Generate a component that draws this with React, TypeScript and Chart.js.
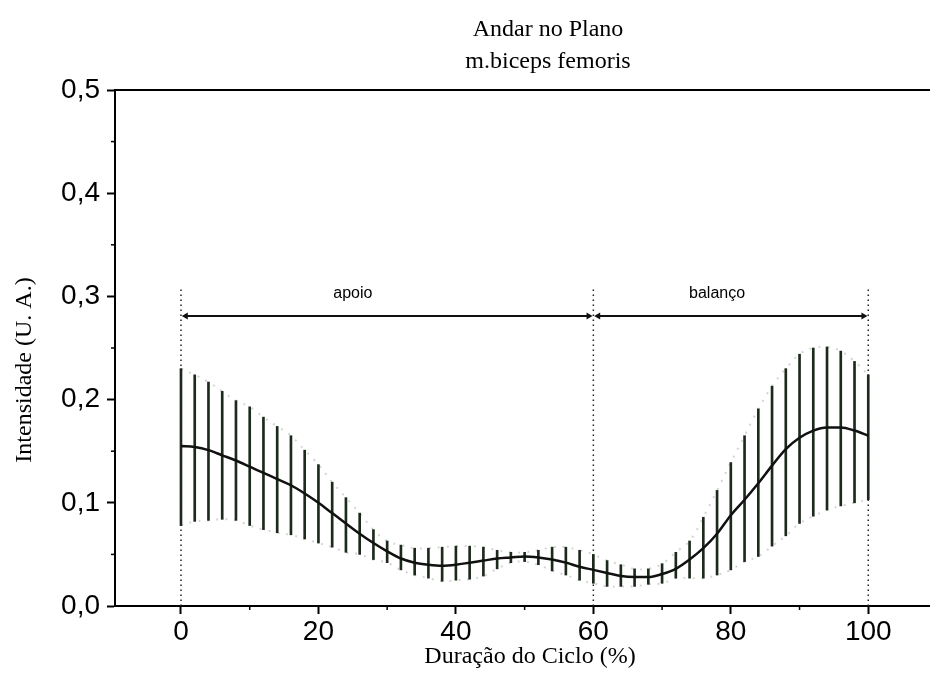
import React, { useEffect, useRef } from 'react';
import { Chart, registerables } from 'chart.js';

Chart.register(...registerables);

// ---- data ----
const cyclePct = [0, 2, 4, 6, 8, 10, 12, 14, 16, 18, 20, 22, 24, 26, 28, 30, 32, 34, 36, 38, 40, 42, 44, 46, 48, 50, 52, 54, 56, 58, 60, 62, 64, 66, 68, 70, 72, 74, 76, 78, 80, 82, 84, 86, 88, 90, 92, 94, 96, 98, 100];
const meanIntensity = [0.155, 0.154, 0.151, 0.146, 0.141, 0.135, 0.129, 0.123, 0.117, 0.109, 0.100, 0.090, 0.080, 0.070, 0.061, 0.053, 0.046, 0.042, 0.040, 0.039, 0.040, 0.042, 0.044, 0.046, 0.047, 0.048, 0.047, 0.045, 0.042, 0.038, 0.035, 0.032, 0.029, 0.028, 0.028, 0.031, 0.036, 0.045, 0.056, 0.070, 0.088, 0.103, 0.119, 0.136, 0.152, 0.163, 0.170, 0.173, 0.173, 0.170, 0.165];
const upperSD = [0.230, 0.224, 0.217, 0.208, 0.199, 0.193, 0.183, 0.174, 0.165, 0.151, 0.137, 0.120, 0.105, 0.090, 0.074, 0.063, 0.059, 0.056, 0.056, 0.057, 0.058, 0.058, 0.057, 0.054, 0.052, 0.052, 0.054, 0.057, 0.057, 0.054, 0.050, 0.044, 0.040, 0.036, 0.036, 0.041, 0.052, 0.063, 0.086, 0.112, 0.139, 0.165, 0.191, 0.213, 0.230, 0.244, 0.250, 0.251, 0.247, 0.237, 0.224];
const lowerSD = [0.078, 0.082, 0.083, 0.084, 0.083, 0.078, 0.074, 0.071, 0.069, 0.065, 0.061, 0.057, 0.052, 0.050, 0.045, 0.042, 0.035, 0.030, 0.027, 0.024, 0.025, 0.026, 0.029, 0.036, 0.042, 0.043, 0.040, 0.034, 0.030, 0.025, 0.022, 0.019, 0.019, 0.019, 0.021, 0.022, 0.027, 0.027, 0.027, 0.030, 0.035, 0.043, 0.048, 0.058, 0.068, 0.080, 0.087, 0.093, 0.097, 0.100, 0.103];

const xTickValues = [0, 20, 40, 60, 80, 100];
const xMinorTicks = [10, 30, 50, 70, 90];
const yTickValues = [0, 0.1, 0.2, 0.3, 0.4, 0.5];
const yMinorTicks = [0.05, 0.15, 0.25, 0.35, 0.45];

const phaseBoundaries = [0, 60, 100];
const boundaryTop = 0.308;
const phaseNames = ['apoio', 'balanço'];
const phaseLabelX = [25, 78];
const phaseLabelY = 0.303;
const phaseArrowY = 0.281;
const arrowGap = 0.7;

const titleLines = ['Andar no Plano', 'm.biceps femoris'];
const xTitle = 'Duração do Ciclo (%)';
const yTitle = 'Intensidade (U. A.)';

const SERIF = '"Liberation Serif", "Times New Roman", serif';
const SANS = '"Liberation Sans", Arial, sans-serif';

const decorPlugin = {
  id: 'decor',
  afterDraw(chart: any) {
    const { ctx, chartArea, scales } = chart;
    const xs = scales.x;
    const ys = scales.y;
    ctx.save();
    ctx.strokeStyle = '#000';
    // top frame line
    ctx.lineWidth = 2;
    ctx.beginPath();
    ctx.moveTo(chartArea.left, chartArea.top);
    ctx.lineTo(chart.width, chartArea.top);
    ctx.stroke();
    ctx.beginPath();
    ctx.moveTo(chartArea.right, chartArea.bottom);
    ctx.lineTo(chart.width, chartArea.bottom);
    ctx.stroke();
    // minor ticks
    ctx.lineWidth = 1.5;
    xMinorTicks.forEach((v) => {
      const px = xs.getPixelForValue(v);
      ctx.beginPath();
      ctx.moveTo(px, chartArea.bottom);
      ctx.lineTo(px, chartArea.bottom + 4);
      ctx.stroke();
    });
    yMinorTicks.forEach((v) => {
      const py = ys.getPixelForValue(v);
      ctx.beginPath();
      ctx.moveTo(chartArea.left, py);
      ctx.lineTo(chartArea.left - 4, py);
      ctx.stroke();
    });
    // phase labels
    ctx.fillStyle = '#000';
    ctx.font = `16px ${SANS}`;
    ctx.textAlign = 'center';
    ctx.textBaseline = 'middle';
    phaseNames.forEach((n, i) => {
      ctx.fillText(n, xs.getPixelForValue(phaseLabelX[i]), ys.getPixelForValue(phaseLabelY));
    });
    // titles
    ctx.font = `24px ${SERIF}`;
    ctx.fillText(titleLines[0], 548, 30);
    ctx.fillText(titleLines[1], 548, 62);
    ctx.fillText(xTitle, 530, 657);
    ctx.translate(25, 370);
    ctx.rotate(-Math.PI / 2);
    ctx.fillText(yTitle, 0, 0);
    ctx.restore();
  },
};

export default function App() {
  const ref = useRef<HTMLCanvasElement | null>(null);

  useEffect(() => {
    if (!ref.current) return;
    const datasets: any[] = [];
    datasets.push({
      type: 'bar',
      data: cyclePct.map((x, i) => ({ x, y: [lowerSD[i], upperSD[i]] })),
      backgroundColor: '#1c2a1c',
      borderWidth: 0,
      barThickness: 2,
      grouped: false,
      order: 3,
    });
    datasets.push({
      type: 'line',
      data: cyclePct.map((x, i) => ({ x, y: upperSD[i] })),
      borderColor: 'rgba(160,160,160,0.45)',
      borderWidth: 2,
      borderDash: [2, 7],
      pointRadius: 0,
      tension: 0.4,
      order: 4,
    });
    datasets.push({
      type: 'line',
      data: cyclePct.map((x, i) => ({ x, y: lowerSD[i] })),
      borderColor: 'rgba(160,160,160,0.45)',
      borderWidth: 2,
      borderDash: [2, 7],
      pointRadius: 0,
      tension: 0.4,
      order: 4,
    });
    datasets.push({
      type: 'line',
      data: cyclePct.map((x, i) => ({ x, y: meanIntensity[i] })),
      borderColor: '#111',
      borderWidth: 2.5,
      pointRadius: 0,
      cubicInterpolationMode: 'monotone',
      order: 1,
    });
    phaseBoundaries.forEach((b) => {
      datasets.push({
        type: 'line',
        data: [{ x: b, y: 0 }, { x: b, y: boundaryTop }],
        borderColor: '#222',
        borderWidth: 1.5,
        borderDash: [1.5, 3.5],
        pointRadius: 0,
        order: 2,
      });
    });
    for (let i = 0; i < phaseBoundaries.length - 1; i++) {
      datasets.push({
        type: 'line',
        data: [
          { x: phaseBoundaries[i] + arrowGap, y: phaseArrowY },
          { x: phaseBoundaries[i + 1] - arrowGap, y: phaseArrowY },
        ],
        borderColor: '#111',
        borderWidth: 2,
        pointStyle: 'triangle',
        pointRadius: 4,
        pointRotation: [-90, 90],
        pointBackgroundColor: '#111',
        pointBorderColor: '#111',
        pointBorderWidth: 0,
        order: 2,
      });
    }

    const chart = new Chart(ref.current, {
      type: 'bar',
      data: { datasets },
      options: {
        animation: false,
        responsive: false,
        maintainAspectRatio: false,
        layout: { padding: { top: 90, left: 0, right: 0, bottom: 0 } },
        plugins: { legend: { display: false }, tooltip: { enabled: false }, title: { display: false } },
        scales: {
          x: {
            type: 'linear',
            min: -9.6,
            max: 108.4,
            offset: false,
            afterBuildTicks: (s: any) => { s.ticks = xTickValues.map((v) => ({ value: v })); },
            afterFit: (s: any) => { s.height = 76; },
            grid: { display: true, offset: false, drawOnChartArea: false, drawTicks: true, tickLength: 8, tickWidth: 2, tickColor: '#000' },
            border: { display: true, width: 2, color: '#000' },
            ticks: { color: '#000', font: { family: SANS, size: 28 }, padding: 1, maxRotation: 0, autoSkip: false, callback: (v: any) => String(v) },
          },
          y: {
            type: 'linear',
            min: 0,
            max: 0.5,
            afterBuildTicks: (s: any) => { s.ticks = yTickValues.map((v) => ({ value: v })); },
            afterFit: (s: any) => { s.width = 115; },
            grid: { display: true, drawOnChartArea: false, drawTicks: true, tickLength: 8, tickWidth: 2, tickColor: '#000' },
            border: { display: true, width: 2, color: '#000' },
            ticks: { color: '#000', font: { family: SANS, size: 28 }, padding: 7, autoSkip: false, callback: (v: any) => Number(v).toFixed(1).replace('.', ',') },
          },
        },
      },
      plugins: [decorPlugin],
    } as any);
    return () => chart.destroy();
  }, []);

  return (
    <div style={{ position: 'absolute', left: 0, top: 0, width: 930, height: 682, background: '#fff' }}>
      <canvas ref={ref} width={930} height={682} style={{ display: 'block' }} />
    </div>
  );
}
